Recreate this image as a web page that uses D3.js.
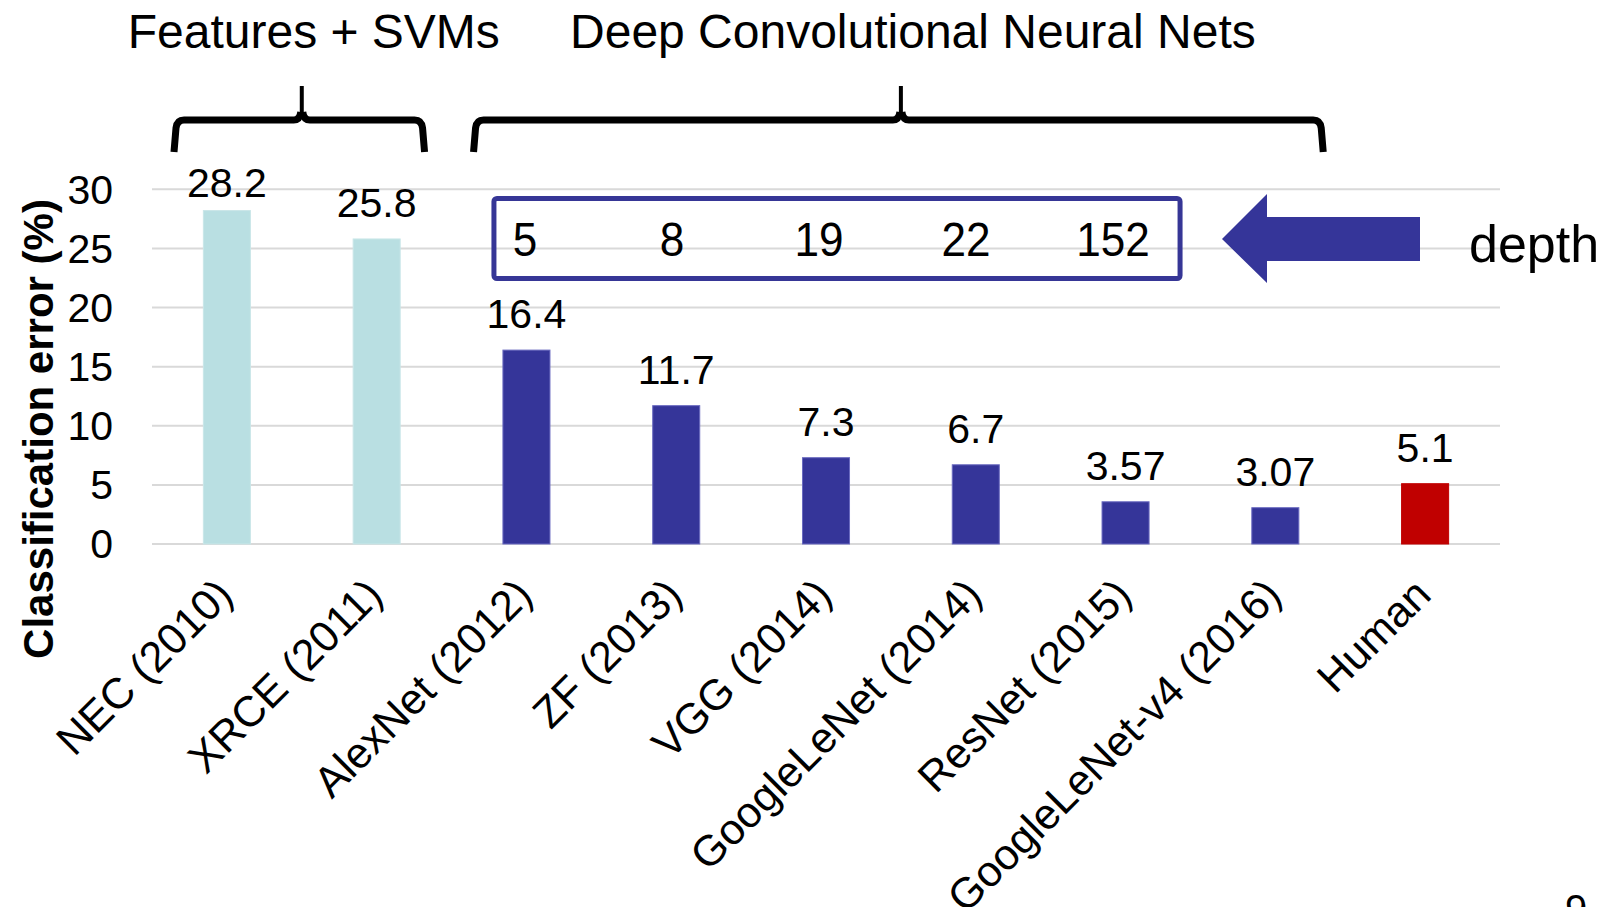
<!DOCTYPE html>
<html>
<head>
<meta charset="utf-8">
<script src="https://cdn.jsdelivr.net/npm/d3@7/dist/d3.min.js"></script>
<style>
  body { margin: 0; background: #fff; }
  svg text { font-family: "Liberation Sans", Arial, sans-serif; fill: #000; }
</style>
</head>
<body>
<div id="chart"></div>
<script>
/** Chart data */
const categories = [
  "NEC (2010)", "XRCE (2011)", "AlexNet (2012)", "ZF (2013)", "VGG (2014)",
  "GoogleLeNet (2014)", "ResNet (2015)", "GoogleLeNet-v4 (2016)", "Human"
];
const errors = [28.2, 25.8, 16.4, 11.7, 7.3, 6.7, 3.57, 3.07, 5.1];
const errorLabels = ["28.2", "25.8", "16.4", "11.7", "7.3", "6.7", "3.57", "3.07", "5.1"];
const kinds = ["svm", "svm", "cnn", "cnn", "cnn", "cnn", "cnn", "cnn", "human"];
const yTicks = [0, 5, 10, 15, 20, 25, 30];
const depths = [5, 8, 19, 22, 152];
const groupTitles = ["Features + SVMs", "Deep Convolutional Neural Nets"];
const groupSpans = [[0, 1], [2, 7]];

/** Graph configs */
const width = 1617;
const height = 907;
const plot = { left: 152, right: 1500, top: 189.3, bottom: 544 };
const colors = { svm: "#b9dfe2", cnn: "#353599", human: "#c00000" };
const edge = { svm: "#c9e6e8", cnn: "#6a6ac0", human: "#c00000" };

const svg = d3
  .select("#chart")
  .append("svg")
  .attr("width", width)
  .attr("height", height);

const x = d3
  .scaleBand()
  .domain(categories)
  .range([plot.left, plot.right])
  .paddingInner(0.686)
  .paddingOuter(0.343);

const y = d3.scaleLinear().domain([0, 30]).range([plot.bottom, plot.top]);
const cx = (c) => x(c) + x.bandwidth() / 2;
// start of the whole slot (bar + its gap)
const slot = (c) => x(c) - (x.step() * x.paddingInner()) / 2;

// gridlines
svg
  .append("g")
  .selectAll("line")
  .data(yTicks)
  .join("line")
  .attr("x1", plot.left)
  .attr("x2", plot.right)
  .attr("y1", (d) => y(d))
  .attr("y2", (d) => y(d))
  .attr("stroke", "#d9d9d9")
  .attr("stroke-width", 2);

// y axis labels
svg
  .append("g")
  .selectAll("text")
  .data(yTicks)
  .join("text")
  .attr("x", 113)
  .attr("y", (d) => y(d))
  .attr("dy", "0.35em")
  .attr("text-anchor", "end")
  .attr("font-size", 41)
  .text((d) => d);

svg
  .append("text")
  .attr("transform", "translate(53,429) rotate(-90)")
  .attr("text-anchor", "middle")
  .attr("font-size", 42)
  .attr("font-weight", "bold")
  .text("Classification error (%)");

// bars
svg
  .append("g")
  .selectAll("rect")
  .data(categories)
  .join("rect")
  .attr("x", (d) => x(d))
  .attr("width", x.bandwidth())
  .attr("y", (d, i) => y(errors[i]))
  .attr("height", (d, i) => y(0) - y(errors[i]))
  .attr("fill", (d, i) => colors[kinds[i]])
  .attr("stroke", (d, i) => edge[kinds[i]])
  .attr("stroke-width", 1);

// value labels
svg
  .append("g")
  .selectAll("text")
  .data(categories)
  .join("text")
  .attr("x", (d) => cx(d))
  .attr("y", (d, i) => Math.max(y(errors[i]) - 22, 197))
  .attr("text-anchor", "middle")
  .attr("font-size", 41)
  .text((d, i) => errorLabels[i]);

// x labels, rotated
svg
  .append("g")
  .selectAll("text")
  .data(categories)
  .join("text")
  .attr("transform", (d) => `translate(${cx(d) + 8},597) rotate(-45)`)
  .attr("text-anchor", "end")
  .attr("font-size", 43)
  .text((d) => d);

// braces + group titles
groupSpans.forEach(([a, b], i) => {
  const x0 = slot(categories[a]) + 22;
  const x1 = slot(categories[b]) + x.step() - 27;
  const xm = (cx(categories[a]) + cx(categories[b])) / 2;
  const g = svg.append("g").attr("fill", "none").attr("stroke", "#000");
  g.append("path")
    .attr("stroke-width", 7)
    .attr(
      "d",
      `M${x0},152 L${x0 + 2},128 Q${x0 + 3},120 ${x0 + 10},120 L${xm - 8},120 Q${xm - 2},120 ${xm - 1},112 ` +
        `M${xm + 1},112 Q${xm + 2},120 ${xm + 8},120 L${x1 - 10},120 Q${x1 - 3},120 ${x1 - 2},128 L${x1},152`
    );
  g.append("path")
    .attr("stroke-width", 4)
    .attr("d", `M${xm},114 L${xm},86`);
  svg
    .append("text")
    .attr("x", xm + 12)
    .attr("y", 48)
    .attr("text-anchor", "middle")
    .attr("font-size", 48)
    .text(groupTitles[i]);
});

// depth box
const depthX = d3
  .scalePoint()
  .domain(depths.map((d, i) => i))
  .range([525, 1113]);

svg
  .append("rect")
  .attr("x", cx("AlexNet (2012)") - 32.5)
  .attr("y", 198.5)
  .attr("width", cx("ResNet (2015)") + 54.5 - (cx("AlexNet (2012)") - 32.5))
  .attr("height", 80)
  .attr("rx", 3)
  .attr("fill", "none")
  .attr("stroke", "#363696")
  .attr("stroke-width", 5);

svg
  .append("g")
  .selectAll("text")
  .data(depths)
  .join("text")
  .attr("transform", (d, i) => `translate(${depthX(i)},256) scale(0.9,1)`)
  .attr("text-anchor", "middle")
  .attr("font-size", 49)
  .text((d) => d);

// arrow
svg
  .append("path")
  .attr("fill", "#353599")
  .attr(
    "d",
    "M1222,239 L1267,194 L1267,217 L1420,217 L1420,261 L1267,261 L1267,283 Z"
  );

svg
  .append("text")
  .attr("x", 1469)
  .attr("y", 262)
  .attr("font-size", 52)
  .text("depth");

// slide number
svg
  .append("text")
  .attr("x", 1576)
  .attr("y", 923)
  .attr("text-anchor", "middle")
  .attr("font-size", 40)
  .text("9");
</script>
</body>
</html>
